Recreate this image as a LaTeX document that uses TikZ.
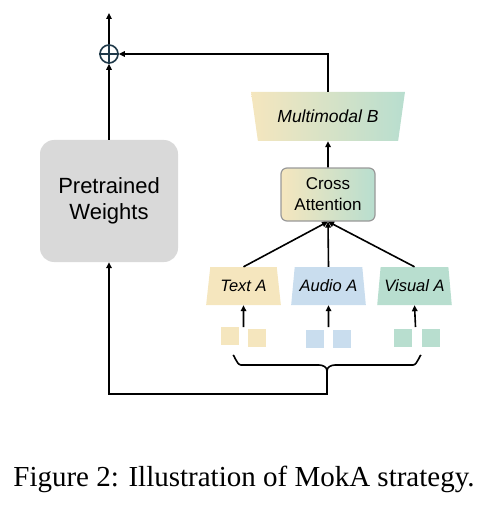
\documentclass[tikz,border=0pt]{standalone}
\usepackage{fontspec}
\setmainfont{Liberation Serif}
\setsansfont{Liberation Sans}
\usetikzlibrary{arrows.meta,shapes.geometric,calc}
\definecolor{cyel}{RGB}{245,230,190}
\definecolor{cblu}{RGB}{201,221,238}
\definecolor{cgrn}{RGB}{184,222,207}
\definecolor{cpre}{RGB}{217,217,217}
\definecolor{cplus}{RGB}{30,56,72}
\tikzset{
  conn/.style={line width=1.6pt,-{Triangle[length=6pt,width=5.5pt]}},
  plain/.style={line width=1.6pt},
  encA/.style={trapezium, trapezium left angle=76, trapezium right angle=76,
    trapezium stretches=true, minimum width=75pt, minimum height=38pt,
    inner sep=0pt, font=\sffamily\itshape\fontsize{16.5}{18}\selectfont},
  tok/.style={minimum width=18pt, minimum height=18pt, inner sep=0pt},
}
\begin{document}
\begin{tikzpicture}[x=1pt,y=-1pt]
\useasboundingbox (0,0) rectangle (495,505);
% Pretrained weights
\node[fill=cpre, rounded corners=14pt, minimum width=138pt, minimum height=122pt,
  align=center, font=\sffamily\fontsize{22}{26}\selectfont] (pw) at (109,201) {Pretrained\\Weights};
% plus
\node[circle, draw=cplus, line width=1.6pt, minimum size=18pt, inner sep=0pt] (plus) at (109,54) {};
\draw[cplus, line width=1.6pt] (plus.north) -- (plus.south) (plus.west) -- (plus.east);
\coordinate (out) at (109,13);
% Multimodal B
\node[trapezium, trapezium left angle=69, trapezium right angle=69, shape border rotate=180,
  trapezium stretches=true, minimum width=154pt, minimum height=49pt, inner sep=0pt,
  left color=cyel, middle color=cblu, right color=cgrn,
  font=\sffamily\itshape\fontsize{17.5}{19}\selectfont] (mb) at (328,116.5) {Multimodal B};
% Cross attention
\node[draw=black!40, line width=1.2pt, rounded corners=6pt, minimum width=94pt, minimum height=53pt,
  left color=cyel, middle color=cblu, right color=cgrn, align=center, inner sep=0pt,
  font=\sffamily\fontsize{17}{21}\selectfont] (ca) at (328,194.5) {Cross\\Attention};
% encoders
\node[encA, fill=cyel] (ta) at (243.5,286) {Text A};
\node[encA, fill=cblu] (aa) at (328.5,286) {Audio A};
\node[encA, fill=cgrn] (va) at (414.5,286) {Visual A};
% tokens
\node[tok, fill=cyel] (t1) at (230,336) {};
\node[tok, fill=cyel] (t2) at (257,338) {};
\node[tok, fill=cblu] (a1) at (315,338.5) {};
\node[tok, fill=cblu] (a2) at (342,338.5) {};
\node[tok, fill=cgrn] (v1) at (403,338) {};
\node[tok, fill=cgrn] (v2) at (431,338) {};
\coordinate (tin) at (243.5,327);
\coordinate (ain) at (328.5,327);
\coordinate (vin) at (415.5,327);
% connectors
\draw[conn] (pw.north) -- (plus.south);
\draw[conn] (plus.north) -- (out);
\draw[conn] (mb.north -| 328,0) -- (328,54) -- (plus.east);
\draw[conn] (ca.north) -- (mb.south);
\draw[conn] (ta.north) -- (ca.south);
\draw[conn] (aa.north) -- (ca.south);
\draw[conn] (va.north) -- (ca.south);
\draw[conn] (tin) -- (ta.south);
\draw[conn] (ain) -- (aa.south);
\draw[conn] (vin) -- (va.south);
% brace and return path
\coordinate (bl) at (233,356);
\coordinate (br) at (421,356);
\coordinate (bm) at (327,371);
\coordinate (bb) at (327,394);
\draw[plain, line join=round] (bl) to[out=90,in=180] ++(8,9) -- (319,365) to[out=0,in=90] (bm);
\draw[plain, line join=round] (br) to[out=90,in=0] ++(-8,9) -- (335,365) to[out=180,in=90] (bm);
\draw[conn] (bm) -- (bb) -- (109,394) -- (pw.south);
% caption
\node[font=\fontsize{29}{32}\selectfont, anchor=base] (cap) at (244,486) {Figure 2: Illustration of MokA strategy.};
\end{tikzpicture}
\end{document}
